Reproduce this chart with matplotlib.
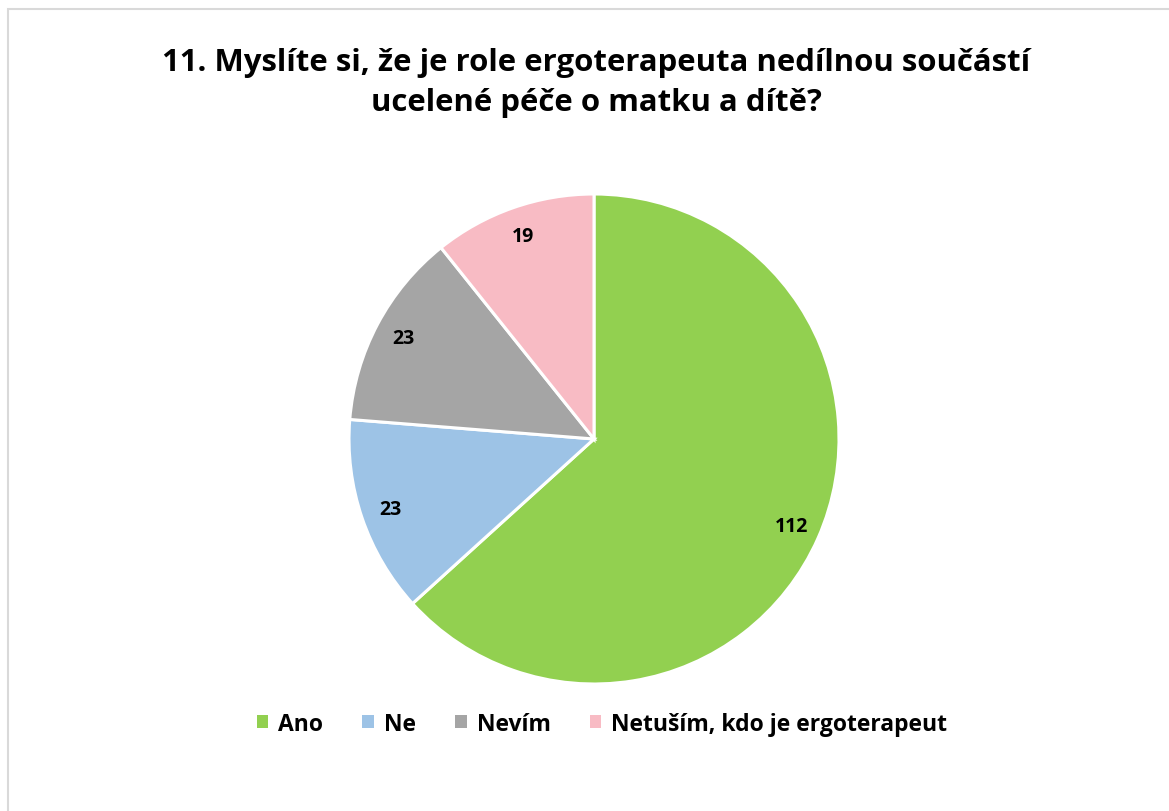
import matplotlib
matplotlib.use("Agg")
import matplotlib.pyplot as plt
from matplotlib.patches import Patch, Rectangle

categories = ["Ano", "Ne", "Nevím", "Netuším, kdo je ergoterapeut"]
values = [112, 23, 23, 19]
colors = ["#92D050", "#9DC3E6", "#A5A5A5", "#F8BBC4"]
title = "11. Myslíte si, že je role ergoterapeuta nedílnou součástí\nucelené péče o matku a dítě?"

plt.rcParams['font.family'] = ['Open Sans', 'DejaVu Sans']

fig = plt.figure(figsize=(11.69, 8.12), dpi=100)
fig.patches.append(Rectangle((8/1169, -0.1), 1.2, 1.1 - 10/812, transform=fig.transFigure,
                             fill=False, edgecolor="#D9D9D9", linewidth=1.5))

ax = fig.add_axes([(594-245)/1169, (812-685)/812, 490/1169, 490/812])
wedges, texts, autotexts = ax.pie(values, colors=colors, startangle=90, counterclock=False,
                                  radius=1.0, autopct=lambda p: f"{round(p*sum(values)/100):d}",
                                  pctdistance=0.88,
                                  wedgeprops=dict(edgecolor="white", linewidth=2.2),
                                  textprops=dict(fontsize=14, fontweight="bold", color="black"))
ax.set_xlim(-1, 1)
ax.set_ylim(-1, 1)
ax.set_aspect("equal")

fig.text(596/1169, 1 - 83/812, title, ha="center", va="center", fontsize=22.4,
         fontweight="bold", linespacing=1.4)

handles = [Patch(facecolor=c, edgecolor="none") for c in colors]
fig.legend(handles, categories, loc="center", bbox_to_anchor=(602/1169, 1 - 725/812),
           ncol=4, frameon=False, handlelength=0.5, handleheight=0.5,
           handletextpad=0.45, columnspacing=1.7,
           prop=dict(size=16.5, weight="bold"))

fig.savefig("out.png", dpi=100)
